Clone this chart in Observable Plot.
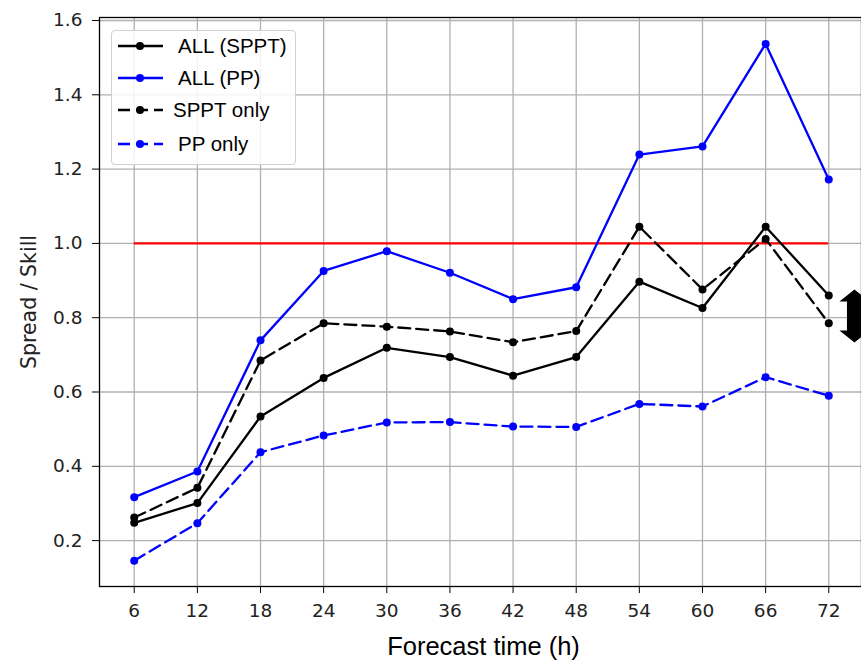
<!DOCTYPE html>
<html>
<head>
<meta charset="utf-8">
<script src="https://cdn.jsdelivr.net/npm/d3@7"></script>
<script src="https://cdn.jsdelivr.net/npm/@observablehq/plot@0.6"></script>
<style>
  html, body { margin: 0; padding: 0; background: #fff; }
  #wrap { position: relative; width: 861px; height: 661px; overflow: hidden; }
  #legend { position: absolute; left: 111px; top: 30px; width: 183px; height: 133px;
            border: 1px solid #d0d0d0; border-radius: 4px; background: rgba(255,255,255,0.85);
            font-family: "Liberation Sans", Arial, sans-serif; font-size: 20.5px; color: #000; }
  #legend .row { position: absolute; left: 0; height: 24px; }
  #legend svg { position: absolute; left: 6px; top: 0; }
  #legend span { position: absolute; top: 0; line-height: 24px; white-space: nowrap; }
</style>
</head>
<body>
<div id="wrap"></div>
<script>
// ---- data ----
const hours = [6, 12, 18, 24, 30, 36, 42, 48, 54, 60, 66, 72];
const allSPPT  = [0.248, 0.301, 0.534, 0.638, 0.719, 0.694, 0.644, 0.694, 0.897, 0.826, 1.045, 0.860];
const allPP    = [0.317, 0.386, 0.739, 0.926, 0.979, 0.921, 0.850, 0.882, 1.239, 1.261, 1.537, 1.172];
const spptOnly = [0.262, 0.342, 0.685, 0.785, 0.776, 0.763, 0.734, 0.764, 1.045, 0.876, 1.012, 0.785];
const ppOnly   = [0.146, 0.247, 0.438, 0.483, 0.518, 0.519, 0.507, 0.506, 0.568, 0.561, 0.640, 0.590];
const seriesNames  = ["ALL (SPPT)", "ALL (PP)", "SPPT only", "PP only"];
const seriesValues = [allSPPT, allPP, spptOnly, ppOnly];
const seriesColors = ["black", "blue", "black", "blue"];
const seriesDashed = [false, false, true, true];
const yTicks = [0.2, 0.4, 0.6, 0.8, 1.0, 1.2, 1.4, 1.6];
const refLevel = 1.0;
const xLabel = "Forecast time (h)";
const yLabel = "Spread / Skill";
const arrowX = 74.44;          // annotation double arrow (data units)
const arrowY = [0.733, 0.876]; // bottom tip, top tip

// ---- build table ----
const rows = [];
seriesNames.forEach((name, i) => {
  hours.forEach((h, j) => rows.push({series: name, hour: h, value: seriesValues[i][j], idx: i}));
});

const headUp = {draw(ctx) { ctx.moveTo(0, 0); ctx.lineTo(-15, 12); ctx.lineTo(15, 12); ctx.closePath(); }};
const headDown = {draw(ctx) { ctx.moveTo(0, 0); ctx.lineTo(-15, -12); ctx.lineTo(15, -12); ctx.closePath(); }};

const gridStyle = {stroke: "#b0b0b0", strokeOpacity: 1, strokeWidth: 1.3};
const seriesMarks = [];
seriesNames.forEach((name, i) => {
  const d = rows.filter(r => r.idx === i);
  seriesMarks.push(Plot.line(d, {x: "hour", y: "value", stroke: seriesColors[i], strokeWidth: 2.3,
    strokeDasharray: seriesDashed[i] ? "12,6" : null}));
  seriesMarks.push(Plot.dot(d, {x: "hour", y: "value", fill: seriesColors[i], r: 4, stroke: "none"}));
});

const chart = Plot.plot({
  width: 861,
  height: 661,
  marginLeft: 99, marginTop: 17, marginBottom: 75, marginRight: 0,
  style: {background: "white", color: "#000", overflow: "visible"},
  x: {domain: [2.7, 75.3], range: [99, 863]},
  y: {domain: [0.0765, 1.607], range: [586, 17.4]},
  marks: [
    Plot.gridX(hours, gridStyle),
    Plot.gridY(yTicks, gridStyle),
    Plot.ruleY([refLevel], {x1: hours[0], x2: hours[hours.length - 1], stroke: "red", strokeWidth: 2.3}),
    ...seriesMarks,
    Plot.frame({stroke: "black", strokeWidth: 1.3}),
    Plot.axisX(hours, {tickSize: 7, tickPadding: 10, fontSize: 18.5, fontFamily: "DejaVu Sans", label: null, fill: "#222"}),
    Plot.axisY(yTicks, {tickSize: 7, tickPadding: 10, fontSize: 18.5, fontFamily: "DejaVu Sans", label: null,
      tickFormat: d3.format(".1f"), fill: "#222"}),
    Plot.text([yLabel], {frameAnchor: "left", rotate: -90, dx: -70, textAnchor: "middle", lineAnchor: "middle",
      fontSize: 20.5, fontFamily: "DejaVu Sans", fill: "#222"}),
    Plot.text([xLabel], {frameAnchor: "bottom", dy: 60.5, dx: 3, textAnchor: "middle", lineAnchor: "middle",
      fontSize: 25.5, fontFamily: "Liberation Sans", fill: "#000"}),
    Plot.ruleX([arrowX], {y1: arrowY[1], y2: arrowY[0], stroke: "black", strokeWidth: 15, insetTop: 11, insetBottom: 11}),
    Plot.dot([arrowX], {x: d => d, y: arrowY[1], symbol: headUp, fill: "black", stroke: "none"}),
    Plot.dot([arrowX], {x: d => d, y: arrowY[0], symbol: headDown, fill: "black", stroke: "none"})
  ]
});

const wrap = document.getElementById("wrap");
wrap.appendChild(chart);

// ---- legend ----
const legend = document.createElement("div");
legend.id = "legend";
const rowTops = [3, 35, 67, 101];
const textLefts = [66, 66, 61, 66];
seriesNames.forEach((name, i) => {
  const row = document.createElement("div");
  row.className = "row";
  row.style.top = rowTops[i] + "px";
  row.style.width = "180px";
  const svg = d3.create("svg").attr("width", 46).attr("height", 24);
  svg.append("line").attr("x1", 0).attr("x2", 45).attr("y1", 12).attr("y2", 12)
    .attr("stroke", seriesColors[i]).attr("stroke-width", 2.3)
    .attr("stroke-dasharray", seriesDashed[i] ? "12,6" : null);
  svg.append("circle").attr("cx", 22).attr("cy", 12).attr("r", 4).attr("fill", seriesColors[i]);
  row.appendChild(svg.node());
  const span = document.createElement("span");
  span.style.left = textLefts[i] + "px";
  span.textContent = name;
  row.appendChild(span);
  legend.appendChild(row);
});
wrap.appendChild(legend);
</script>
</body>
</html>
